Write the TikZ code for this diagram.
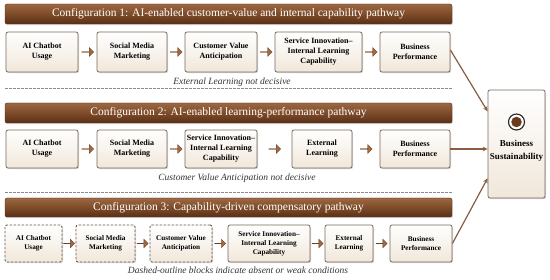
\documentclass[tikz,border=0pt]{standalone}
\usepackage{fontspec}
\setmainfont{Liberation Serif}
\usetikzlibrary{shapes.arrows,shadows,arrows.meta,calc}
\definecolor{bannerTop}{HTML}{9C6843}
\definecolor{bannerMid}{HTML}{7E4B29}
\definecolor{bannerBot}{HTML}{5A2F16}
\definecolor{boxBorder}{HTML}{7B6A5C}
\definecolor{boxBot}{HTML}{F1E7DA}
\definecolor{arrowFill}{HTML}{A36A42}
\definecolor{arrowDraw}{HTML}{6B4022}
\definecolor{connBrown}{HTML}{8A5D42}
\definecolor{sepGray}{HTML}{8A8A8A}
\definecolor{noteGray}{HTML}{333333}
\definecolor{targetFill}{HTML}{6A3A1C}
\begin{document}
\begin{tikzpicture}[x=1pt,y=-1pt,
  banner/.style={rounded corners=2pt, top color=bannerTop, bottom color=bannerBot, middle color=bannerMid,
    draw=bannerBot, line width=0.4pt, text=white, font=\fontsize{11.5}{12}\selectfont, inner sep=0pt,
    drop shadow={shadow xshift=0.8pt, shadow yshift=-1.2pt, opacity=0.35}},
  stepbox/.style={draw=boxBorder, line width=0.8pt, rounded corners=2pt, top color=white, bottom color=boxBot,
    align=center, font=\bfseries\fontsize{8}{10}\selectfont, inner sep=1pt,
    drop shadow={shadow xshift=1pt, shadow yshift=-1.2pt, opacity=0.3}},
  weakbox/.style={stepbox, dashed, dash pattern=on 2.5pt off 1.5pt, draw=boxBorder!80!black, line width=0.9pt},
  small/.style={font=\bfseries\fontsize{7.2}{9.2}\selectfont},
  blockarrow/.style={shape=single arrow, fill=arrowFill, draw=arrowDraw, line width=0.3pt,
    minimum height=12pt, minimum width=9pt, single arrow head extend=2pt, inner sep=0pt},
  blockarrowsm/.style={blockarrow, minimum height=11pt, minimum width=8.5pt},
  conn/.style={draw=connBrown, line width=1.2pt, -{Stealth[length=5pt,width=4.5pt]}},
  note/.style={font=\itshape\fontsize{9.5}{10}\selectfont, text=noteGray},
  sep/.style={draw=sepGray, line width=0.6pt, dash pattern=on 2.5pt off 1.5pt}
]
\useasboundingbox[fill=white] (0,0) rectangle (550,280);

% Banners
\node[banner, minimum width=447pt, minimum height=20pt] (ban1) at (228.5,14) {Configuration 1: AI-enabled customer-value and internal capability pathway};
\node[banner, minimum width=447pt, minimum height=20pt] (ban2) at (228.5,113) {Configuration 2: AI-enabled learning-performance pathway};
\node[banner, minimum width=447pt, minimum height=19pt] (ban3) at (228.5,207.5) {Configuration 3: Capability-driven compensatory pathway};

% Row 1
\node[stepbox, minimum width=72pt, minimum height=40pt] (a1) at (42,52) {AI Chatbot\\Usage};
\node[stepbox, minimum width=70pt, minimum height=40pt] (a2) at (132,52) {Social Media\\Marketing};
\node[stepbox, minimum width=72pt, minimum height=40pt] (a3) at (221,52) {Customer Value\\Anticipation};
\node[stepbox, minimum width=87pt, minimum height=40pt] (a4) at (318.5,52) {Service Innovation–\\Internal Learning\\Capability};
\node[stepbox, minimum width=70pt, minimum height=40pt] (a5) at (415,52) {Business\\Performance};
\foreach \u/\v in {a1/a2,a2/a3,a3/a4,a4/a5}
  \path (\u.east) -- node[blockarrow]{} (\v.west);
\node[note] (n1) at (232,82) {External Learning not decisive};
\draw[sep] (5,88) -- (452,88);

% Row 2
\node[stepbox, minimum width=72pt, minimum height=38pt] (b1) at (42,149) {AI Chatbot\\Usage};
\node[stepbox, minimum width=70pt, minimum height=38pt] (b2) at (132,149) {Social Media\\Marketing};
\node[stepbox, minimum width=72pt, minimum height=38pt] (b3) at (221,149) {Service Innovation–\\Internal Learning\\Capability};
\node[stepbox, minimum width=60pt, minimum height=38pt] (b4) at (322,149) {External\\Learning};
\node[stepbox, minimum width=70pt, minimum height=38pt] (b5) at (415,149) {Business\\Performance};
\foreach \u/\v in {b1/b2,b2/b3,b3/b4,b4/b5}
  \path (\u.east) -- node[blockarrow]{} (\v.west);
\node[note] (n2) at (237,178) {Customer Value Anticipation not decisive};
\draw[sep] (5,192) -- (452,192);

% Row 3
\node[weakbox, small, minimum width=57pt, minimum height=37pt] (c1) at (33.5,243.5) {AI Chatbot\\Usage};
\node[weakbox, small, minimum width=59pt, minimum height=37pt] (c2) at (105.5,243.5) {Social Media\\Marketing};
\node[weakbox, small, minimum width=62pt, minimum height=37pt] (c3) at (181,243.5) {Customer Value\\Anticipation};
\node[stepbox, small, minimum width=82pt, minimum height=37pt] (c4) at (269,243.5) {Service Innovation–\\Internal Learning\\Capability};
\node[stepbox, small, minimum width=48pt, minimum height=37pt] (c5) at (349,243.5) {External\\Learning};
\node[stepbox, small, minimum width=62pt, minimum height=37pt] (c6) at (421,243.5) {Business\\Performance};
\foreach \u/\v in {c1/c2,c2/c3,c3/c4,c4/c5,c5/c6}
  \path (\u.east) -- node[blockarrowsm]{} (\v.west);
\node[note] (n3) at (238,270) {Dashed-outline blocks indicate absent or weak conditions};

% Business sustainability
\node[stepbox, minimum width=57pt, minimum height=108pt] (bs) at (516.5,144) {};
\node[circle, draw=black!85, line width=1.1pt, fill=white, minimum size=16pt, inner sep=0pt] (tgt) at (516.5,122) {};
\node[circle, fill=targetFill, minimum size=10.5pt, inner sep=0pt] (tgtin) at (tgt.center) {};
\node[font=\bfseries\fontsize{9}{13}\selectfont, align=center] (bstext) at (516.5,151) {Business\\Sustainability};

% Connectors
\coordinate (e1) at ($(bs.north west)!0.2!(bs.south west)$);
\coordinate (e3) at ($(bs.north west)!0.815!(bs.south west)$);
\draw[conn] ([yshift=2pt]a5.east) -- (e1);
\draw[conn] (b5.east) -- (b5.east -| bs.west);
\draw[conn] (c6.east) -- (e3);
\end{tikzpicture}
\end{document}
